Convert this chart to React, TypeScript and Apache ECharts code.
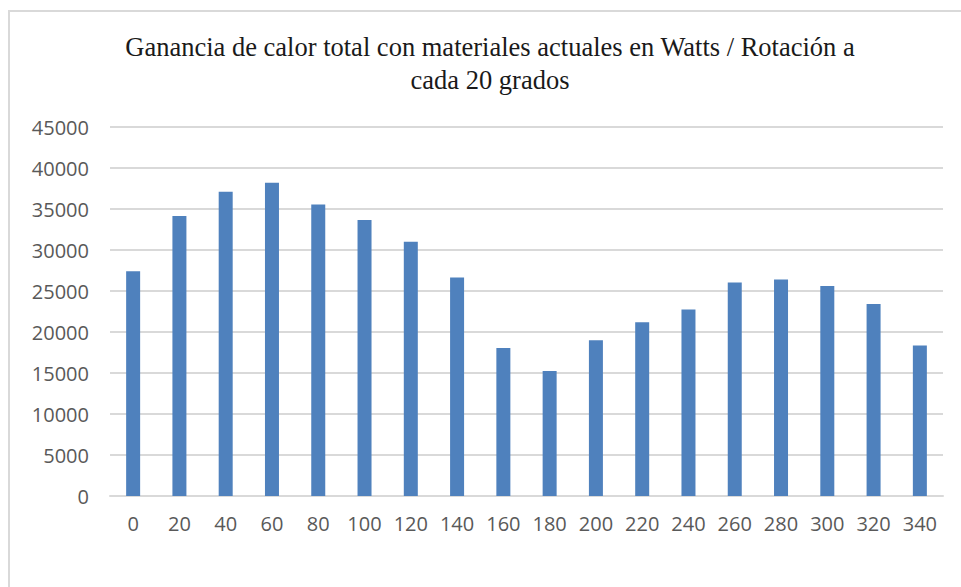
import React, { useEffect, useRef } from "react";
import * as echarts from "echarts";

const categories = ["0", "20", "40", "60", "80", "100", "120", "140", "160", "180", "200", "220", "240", "260", "280", "300", "320", "340"];
const heatGain = [27400, 34150, 37100, 38200, 35550, 33650, 31000, 26650, 18050, 15250, 19000, 21200, 22750, 26050, 26400, 25600, 23400, 18350];
const titleLines = ["Ganancia de calor total con materiales actuales en Watts / Rotación a", "cada 20 grados"];

export default function App() {
  const ref = useRef<HTMLDivElement>(null);
  useEffect(() => {
    if (!ref.current) return;
    const chart = echarts.init(ref.current, undefined, { renderer: "svg" });
    const titleFont = "26.5px 'Liberation Serif', 'Times New Roman', serif";
    chart.setOption({
      animation: false,
      backgroundColor: "#ffffff",
      graphic: [
        { type: "line", shape: { x1: 8, y1: 11, x2: 961, y2: 11 }, style: { stroke: "#d9d9d9", lineWidth: 2 } },
        { type: "line", shape: { x1: 9, y1: 10, x2: 9, y2: 587 }, style: { stroke: "#d9d9d9", lineWidth: 2 } },
        {
          type: "text", x: 490, y: 47,
          style: { text: titleLines[0], font: titleFont, fill: "#1a1a1a", textAlign: "center", textVerticalAlign: "middle" },
        },
        {
          type: "text", x: 490, y: 80,
          style: { text: titleLines[1], font: titleFont, fill: "#1a1a1a", textAlign: "center", textVerticalAlign: "middle" },
        },
      ],
      grid: { left: 110, right: 18, top: 127, bottom: 91, containLabel: false },
      xAxis: {
        type: "category",
        data: categories,
        axisLine: { lineStyle: { color: "#d9d9d9", width: 2 } },
        axisTick: { show: false },
        axisLabel: { color: "#595959", fontSize: 20, fontFamily: "'Open Sans', sans-serif", margin: 17 },
      },
      yAxis: {
        type: "value",
        min: 0,
        max: 45000,
        interval: 5000,
        axisLine: { show: false },
        axisTick: { show: false },
        splitLine: { lineStyle: { color: "#d9d9d9", width: 2 } },
        axisLabel: {
          color: "#595959", fontSize: 20, fontFamily: "'Open Sans', sans-serif", margin: 21,
          formatter: (v: number) => String(v),
        },
      },
      series: [
        {
          type: "bar",
          data: heatGain,
          barWidth: 14,
          itemStyle: { color: "#4f81bd" },
        },
      ],
    });
    return () => chart.dispose();
  }, []);
  return <div ref={ref} style={{ position: "fixed", left: 0, top: 0, width: 961, height: 587 }} />;
}
